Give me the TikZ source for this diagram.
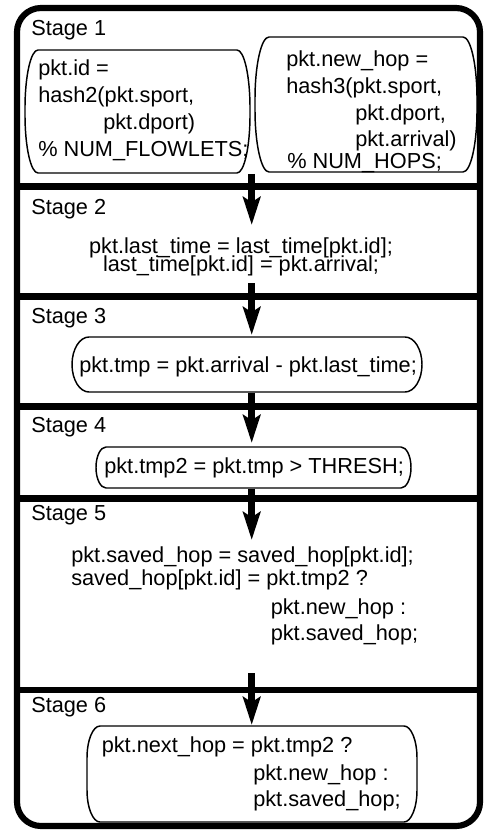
\documentclass[tikz,border=0pt]{standalone}
\usepackage{fontspec}
\setmainfont{Liberation Sans}
\usetikzlibrary{arrows.meta}
\tikzset{
  boxline/.style={line width=1.1pt},
  outerline/.style={line width=4.6pt, rounded corners=18pt},
  sepline/.style={line width=5pt},
  flow/.style={line width=5pt, -{Stealth[length=21pt,width=13pt,inset=4pt]}},
  codetxt/.style={inner sep=0pt, anchor=base west, font=\fontsize{16.3}{19}\selectfont},
  ctrtxt/.style={inner sep=0pt, anchor=base, font=\fontsize{16.3}{19}\selectfont},
}
% elliptic-corner box: x1,y1,x2,y2,rx,ry (all in px)
\newcommand\eboxdraw[6]{%
  \pgfmathsetmacro\erx{#5*0.75}\pgfmathsetmacro\ery{#6*0.75}%
  \draw[boxline] ({#1+#5},#2) -- ({#3-#5},#2)
    arc[start angle=90,end angle=0,x radius=\erx pt,y radius=\ery pt]
    -- (#3,{#4-#6})
    arc[start angle=0,end angle=-90,x radius=\erx pt,y radius=\ery pt]
    -- ({#1+#5},#4)
    arc[start angle=270,end angle=180,x radius=\erx pt,y radius=\ery pt]
    -- (#1,{#2+#6})
    arc[start angle=180,end angle=90,x radius=\erx pt,y radius=\ery pt]
    -- cycle;}
\begin{document}
\begin{tikzpicture}[x=0.75pt,y=-0.75pt]
\useasboundingbox (0,0) rectangle (483,830);
% outer frame
\draw[outerline] (17,8) rectangle (480,826);
% stage separators
\draw[sepline] (17,186.7) -- (480,186.7);
\draw[sepline] (17,296.7) -- (480,296.7);
\draw[sepline] (17,406.7) -- (480,406.7);
\draw[sepline] (17,498.3) -- (480,498.3);
\draw[sepline] (17,690) -- (480,690);
% boxes
\eboxdraw{25}{50}{250}{173}{13}{58}
\eboxdraw{255}{37}{477}{172}{14}{62}
\eboxdraw{72}{337}{422}{392}{17}{27.5}
\eboxdraw{96}{447}{411}{488}{10}{20.5}
\eboxdraw{87}{726}{417}{822}{13}{32}
% stage labels
\node[codetxt] (st1) at (31,36) {Stage 1};
\node[codetxt] (st2) at (31,215) {Stage 2};
\node[codetxt] (st3) at (31,323.5) {Stage 3};
\node[codetxt] (st4) at (31,432) {Stage 4};
\node[codetxt] (st5) at (31,520.5) {Stage 5};
\node[codetxt] (st6) at (31,712) {Stage 6};
% stage 1 left
\node[codetxt] (l1a) at (38,76) {pkt.id =};
\node[codetxt] (l1b) at (38,103) {hash2(pkt.sport,};
\node[codetxt] (l1c) at (103,130) {pkt.dport)};
\node[codetxt] (l1d) at (38,157) {\% NUM\_FLOWLETS;};
% stage 1 right
\node[codetxt] (r1a) at (286,67) {pkt.new\_hop =};
\node[codetxt] (r1b) at (286,93.5) {hash3(pkt.sport,};
\node[codetxt] (r1c) at (355,120.5) {pkt.dport,};
\node[codetxt] (r1d) at (355,147) {pkt.arrival)};
\node[codetxt] (r1e) at (287,169) {\% NUM\_HOPS;};
% stage 2
\node[ctrtxt] (s2a) at (241,253.5) {pkt.last\_time = last\_time[pkt.id];};
\node[ctrtxt] (s2b) at (241,272) {last\_time[pkt.id] = pkt.arrival;};
% stage 3
\node[codetxt] (s3a) at (79,372) {pkt.tmp = pkt.arrival - pkt.last\_time;};
% stage 4
\node[codetxt] (s4a) at (104,473) {pkt.tmp2 = pkt.tmp > THRESH;};
% stage 5
\node[codetxt] (s5a) at (71,562) {pkt.saved\_hop = saved\_hop[pkt.id];};
\node[codetxt] (s5b) at (71,585) {saved\_hop[pkt.id] = pkt.tmp2 ?};
\node[codetxt] (s5c) at (270.5,614) {pkt.new\_hop :};
\node[codetxt] (s5d) at (270.5,640.5) {pkt.saved\_hop;};
% stage 6
\node[codetxt] (s6a) at (101.5,752.7) {pkt.next\_hop = pkt.tmp2 ?};
\node[codetxt] (s6b) at (253,780) {pkt.new\_hop :};
\node[codetxt] (s6c) at (253,806.7) {pkt.saved\_hop;};
% arrows
\coordinate (a1s) at (251.7,174);   \coordinate (a1e) at (251.7,225);
\coordinate (a2s) at (251.7,283);   \coordinate (a2e) at (251.7,335);
\coordinate (a3s) at (251.7,392.5); \coordinate (a3e) at (251.7,443);
\coordinate (a4s) at (251.7,488.5); \coordinate (a4e) at (251.7,540);
\coordinate (a5s) at (251.7,673);   \coordinate (a5e) at (251.7,725);
\draw[flow] (a1s) -- (a1e);
\draw[flow] (a2s) -- (a2e);
\draw[flow] (a3s) -- (a3e);
\draw[flow] (a4s) -- (a4e);
\draw[flow] (a5s) -- (a5e);
\end{tikzpicture}
\end{document}
